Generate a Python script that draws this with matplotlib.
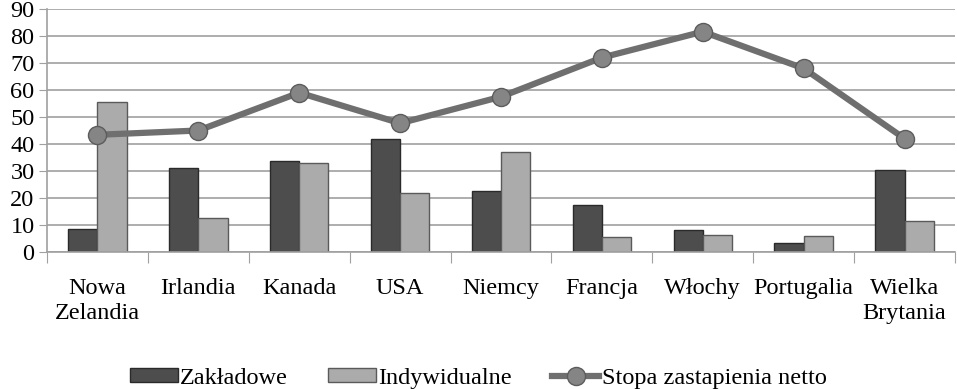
import numpy as np
import matplotlib.pyplot as plt

kraje = ["Nowa\nZelandia", "Irlandia", "Kanada", "USA", "Niemcy", "Francja",
         "Włochy", "Portugalia", "Wielka\nBrytania"]
zakladowe = [8.5, 31.2, 33.7, 41.8, 22.6, 17.4, 8.1, 3.2, 30.2]
indywidualne = [55.5, 12.5, 33.0, 22.0, 37.0, 5.4, 6.3, 5.9, 11.5]
stopa_netto = [43.4, 45.0, 59.0, 47.7, 57.5, 72.0, 81.6, 68.0, 42.0]

plt.rcParams['font.family'] = ['Liberation Serif', 'DejaVu Serif']

fig = plt.figure(figsize=(9.57, 3.89), dpi=100)
ax = fig.add_axes([47/957, 1-252/389, 908/957, 243/389])

x = np.arange(len(kraje))
w = 0.29
b1 = ax.bar(x - w/2, zakladowe, w, color="#4d4d4d", edgecolor="#2a2a2a", linewidth=1.0,
            label="Zakładowe", zorder=2)
b2 = ax.bar(x + w/2, indywidualne, w, color="#ababab", edgecolor="#5a5a5a", linewidth=1.0,
            label="Indywidualne", zorder=2)
ln, = ax.plot(x, stopa_netto, color="#6f6f6f", linewidth=4.5, marker="o", markersize=13,
              markerfacecolor="#858585", markeredgecolor="#5c5c5c", markeredgewidth=1,
              label="Stopa zastapienia netto", zorder=3)

ax.set_xlim(-0.5, len(kraje) - 0.5)
ax.set_ylim(0, 90)
ax.set_yticks(range(0, 91, 10))
ax.yaxis.grid(True, color="#a0a0a0", linewidth=1.2, zorder=0)
ax.set_axisbelow(True)
ax.tick_params(axis='y', length=6, color="#a0a0a0", labelsize=17.5, pad=3)

ax.set_xticks(np.arange(-0.5, len(kraje), 1.0), minor=False)
ax.set_xticklabels([])
ax.set_xticks(x, minor=True)
ax.set_xticklabels(kraje, minor=True, fontsize=17.5, linespacing=1.2)
ax.tick_params(axis='x', which='major', length=8, color="#a0a0a0")
ax.tick_params(axis='x', which='minor', length=0, pad=19)

for s in ["top", "right"]:
    ax.spines[s].set_visible(False)
for s in ["left", "bottom"]:
    ax.spines[s].set_color("#a0a0a0")
    ax.spines[s].set_linewidth(1.2)

fig.legend([b1, b2, ln], ["Zakładowe", "Indywidualne", "Stopa zastapienia netto"],
           loc="lower center", bbox_to_anchor=(0.5, -0.056), ncol=3, frameon=False,
           fontsize=17.5, handlelength=1.95, handleheight=0.5, columnspacing=1.65,
           handletextpad=0.1)

fig.savefig("out.png", dpi=100)
